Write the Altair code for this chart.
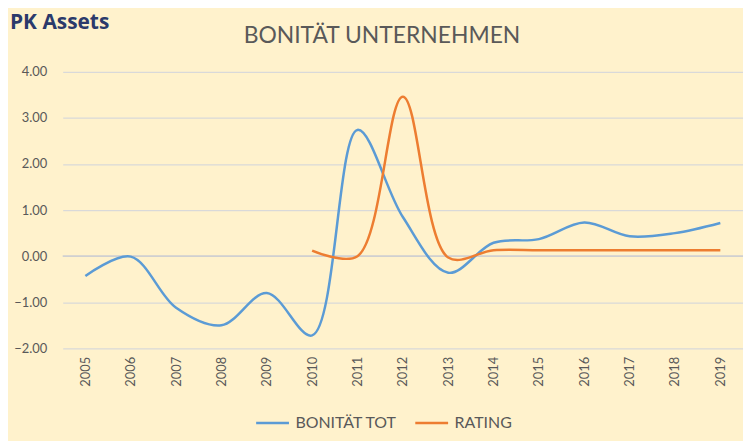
import altair as alt
import pandas as pd

years = [str(y) for y in range(2005, 2020)]
bonitaet_tot = [-0.43, -0.01, -1.12, -1.50, -0.80, -1.72, 2.74, 0.85, -0.36, 0.29, 0.37, 0.73, 0.43, 0.50, 0.72]
rating_years = [str(y) for y in range(2010, 2020)]
rating = [0.12, 0.00, 3.46, -0.03, 0.13, 0.13, 0.13, 0.13, 0.13, 0.13]

series_names = ["BONITÄT TOT", "RATING"]
series_colors = ["#5B9BD5", "#ED7D31"]
y_ticks = [-2, -1, 0, 1, 2, 3, 4]

title_text = "BONITÄT UNTERNEHMEN"
logo_text = "PK Assets"

FONT = "Lato"
GRAY = "#595959"

df = pd.DataFrame({
    "Jahr": years + rating_years,
    "Wert": bonitaet_tot + rating,
    "Serie": [series_names[0]] * len(years) + [series_names[1]] * len(rating_years),
})

y_scale = alt.Scale(domain=[-2, 4], nice=False, zero=False)
y_axis = alt.Axis(title=None, values=y_ticks, format=".2f", labelFont=FONT, labelFontSize=13,
                  labelColor=GRAY, labelPadding=16, ticks=False, domain=False,
                  grid=True, gridColor="#D9D9D9", gridWidth=1.2)

x_enc = alt.X("Jahr:O", scale=alt.Scale(domain=years),
              axis=alt.Axis(title=None, labelAngle=-90, labelFont=FONT, labelFontSize=13,
                            labelColor=GRAY, labelPadding=8, ticks=False, domain=False, grid=False))

zero_rule = alt.Chart(pd.DataFrame({"Wert": [0]})).mark_rule(color="#D0D0D0", strokeWidth=1.6).encode(
    y=alt.Y("Wert:Q", scale=y_scale, axis=y_axis)
)

lines = alt.Chart(df).mark_line(interpolate="catmull-rom", strokeWidth=2.5).encode(
    x=x_enc,
    y=alt.Y("Wert:Q", scale=y_scale, axis=y_axis),
    color=alt.Color("Serie:N", scale=alt.Scale(domain=series_names, range=series_colors),
                    legend=alt.Legend(title=None, orient="none", direction="horizontal",
                                      legendX=193, legendY=335, symbolType="stroke",
                                      symbolSize=1089, symbolStrokeWidth=2.5,
                                      labelFont=FONT, labelFontSize=16, labelColor=GRAY,
                                      labelOffset=5, columnPadding=12)),
    order=alt.Order("Jahr:O"),
)

title = alt.Chart(pd.DataFrame({"t": [title_text]})).mark_text(
    font=FONT, fontSize=23, color=GRAY, align="center", baseline="alphabetic"
).encode(text="t:N", x=alt.value(321), y=alt.value(-29))

logo = alt.Chart(pd.DataFrame({"t": [logo_text]})).mark_text(
    font="Open Sans", fontSize=21, fontWeight="bold", color="#2B3A6B", align="left",
    baseline="alphabetic"
).encode(text="t:N", x=alt.value(-53), y=alt.value(-43))

chart = alt.layer(zero_rule, lines, title, logo).properties(
    width=684, height=278,
    autosize=alt.AutoSizeParams(type="none"),
    padding={"left": 55, "top": 63, "right": 0, "bottom": 92},
    background="#FFF2CC",
).configure_view(stroke=None)

chart.save("out.html", embed_options={"renderer": "svg", "actions": False})
